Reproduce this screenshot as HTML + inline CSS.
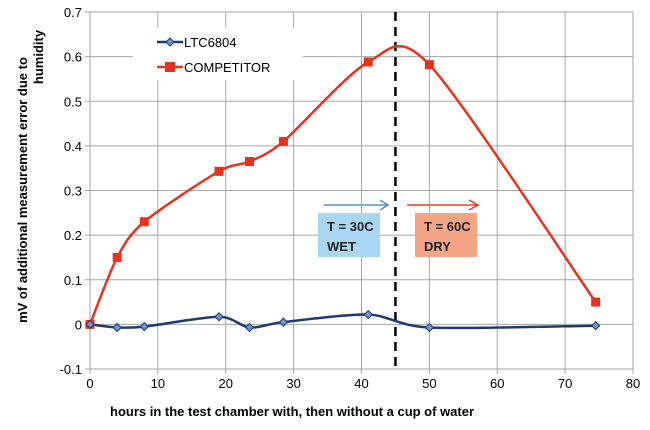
<!DOCTYPE html>
<html><head><meta charset="utf-8"><style>
body{margin:0;background:#fff;}
svg{display:block;font-family:"Liberation Sans",Arial,sans-serif;}
</style></head><body>
<svg id="c" width="650" height="430"></svg>
<script>
const xTicks=[0,10,20,30,40,50,60,70,80];
const yTicks=[-0.1,0,0.1,0.2,0.3,0.4,0.5,0.6,0.7];
const hours=[0,4,8,19,23.5,28.5,41,50,74.5];
const ltc=[0,-0.007,-0.005,0.017,-0.007,0.005,0.022,-0.007,-0.003];
const competitor=[0,0.15,0.23,0.343,0.365,0.41,0.588,0.582,0.05];
const dividerHour=45;

const X0=90,X1=633,Y0=369,Y1=12;
const sx=v=>X0+(v-0)/(80-0)*(X1-X0);
const sy=v=>Y0-(v+0.1)/(0.8)*(Y0-Y1);
const svg=document.getElementById('c');
const NS='http://www.w3.org/2000/svg';
function mk(tag,attrs,parent){const e=document.createElementNS(NS,tag);for(const k in attrs)e.setAttribute(k,attrs[k]);(parent||svg).appendChild(e);return e;}

const grid=mk('g',{});


yTicks.forEach(t=>{
  mk('line',{x1:X0-5,x2:X1,y1:sy(t),y2:sy(t),stroke:'#a6a6a6','stroke-width':1},grid);
  const tx=mk('text',{x:X0-8,y:sy(t)+5,'text-anchor':'end','font-size':13,fill:'#000'});
  tx.textContent=(Math.round(t*10)/10).toString();
  
  
});
xTicks.forEach(t=>{
  mk('line',{x1:sx(t),x2:sx(t),y1:Y1,y2:Y0+5,stroke:'#a6a6a6','stroke-width':1},grid);
  const tx=mk('text',{x:sx(t),y:Y0+19,'text-anchor':'middle','font-size':13,fill:'#000'});
  tx.textContent=t;
  
  
});

const b1=mk('rect',{x:318,y:213,width:62,height:44,fill:'#a9d6f2'});


const b2=mk('rect',{x:415,y:213,width:62,height:44,fill:'#f3a585'});


[[327,231,'T = 30C'],[327,251,'WET'],[424,231,'T = 60C'],[424,251,'DRY']].forEach(a=>{
  const t=mk('text',{x:a[0],y:a[1],'font-size':13,'font-weight':'bold',fill:'#222'});
  t.textContent=a[2];
  
  
});
const a1=mk('path',{d:'M324 205 H387 M380 200 L388 205 L380 210',stroke:'#5b8fc4','stroke-width':1.5,fill:'none'});


const a2=mk('path',{d:'M407 205 H477 M469 200 L478 205 L469 210',stroke:'#e0402a','stroke-width':1.5,fill:'none'});



const dl=mk('line',{x1:sx(dividerHour),x2:sx(dividerHour),y1:Y1,y2:Y0,stroke:'#000','stroke-width':2.5,'stroke-dasharray':'9,6'});



function smooth(xs,ys){
  const p=xs.map((x,i)=>[sx(x),sy(ys[i])]);
  let d='M'+p[0][0]+' '+p[0][1];
  for(let i=0;i<p.length-1;i++){
    const p0=p[i-1]||p[i],p1=p[i],p2=p[i+1],p3=p[i+2]||p2;
    const t=0.14;
    const c1=[p1[0]+(p2[0]-p0[0])*t,p1[1]+(p2[1]-p0[1])*t];
    const c2=[p2[0]-(p3[0]-p1[0])*t,p2[1]-(p3[1]-p1[1])*t];
    d+=` C${c1[0]} ${c1[1]} ${c2[0]} ${c2[1]} ${p2[0]} ${p2[1]}`;
  }
  return d;
}
const lc=mk('path',{d:smooth(hours,competitor),stroke:'#e8321e','stroke-width':2.5,fill:'none'});


const ll=mk('path',{d:smooth(hours,ltc),stroke:'#1f3a73','stroke-width':2.5,fill:'none'});


hours.forEach((h,i)=>{
  const m=mk('rect',{x:sx(h)-4.5,y:sy(competitor[i])-4.5,width:9,height:9,fill:'#e8321e'});
  
  
  const x=sx(h),y=sy(ltc[i]);
  const d=mk('path',{d:`M${x} ${y-4} L${x+4} ${y} L${x} ${y+4} L${x-4} ${y} Z`,fill:'#6f94c8',stroke:'#1f3a73','stroke-width':1});
  
  
});

const lg=mk('g',{});


mk('rect',{x:133,y:28,width:170,height:52,fill:'#fff'},lg);
mk('line',{x1:157,x2:183,y1:42,y2:42,stroke:'#1f3a73','stroke-width':2.5},lg);
mk('path',{d:'M170 38 L174 42 L170 46 L166 42 Z',fill:'#6f94c8',stroke:'#1f3a73'},lg);
const t1=mk('text',{x:184,y:47,'font-size':13},lg);t1.textContent='LTC6804';


mk('line',{x1:157,x2:183,y1:67,y2:67,stroke:'#e8321e','stroke-width':2.5},lg);
mk('rect',{x:165,y:62,width:10,height:10,fill:'#e8321e'},lg);
const t2=mk('text',{x:184,y:72,'font-size':13},lg);t2.textContent='COMPETITOR';



const yt=mk('text',{transform:'translate(27,190) rotate(-90)','text-anchor':'middle','font-size':13,'font-weight':'bold'});
yt.textContent='mV of additional measurement error due to';


const yt2=mk('text',{transform:'translate(43,57) rotate(-90)','text-anchor':'middle','font-size':13,'font-weight':'bold'});
yt2.textContent='humidity';


const xt=mk('text',{x:110,y:416,'font-size':13,'font-weight':'bold'});
xt.textContent='hours in the test chamber with, then without a cup of water';


</script>
</body></html>
